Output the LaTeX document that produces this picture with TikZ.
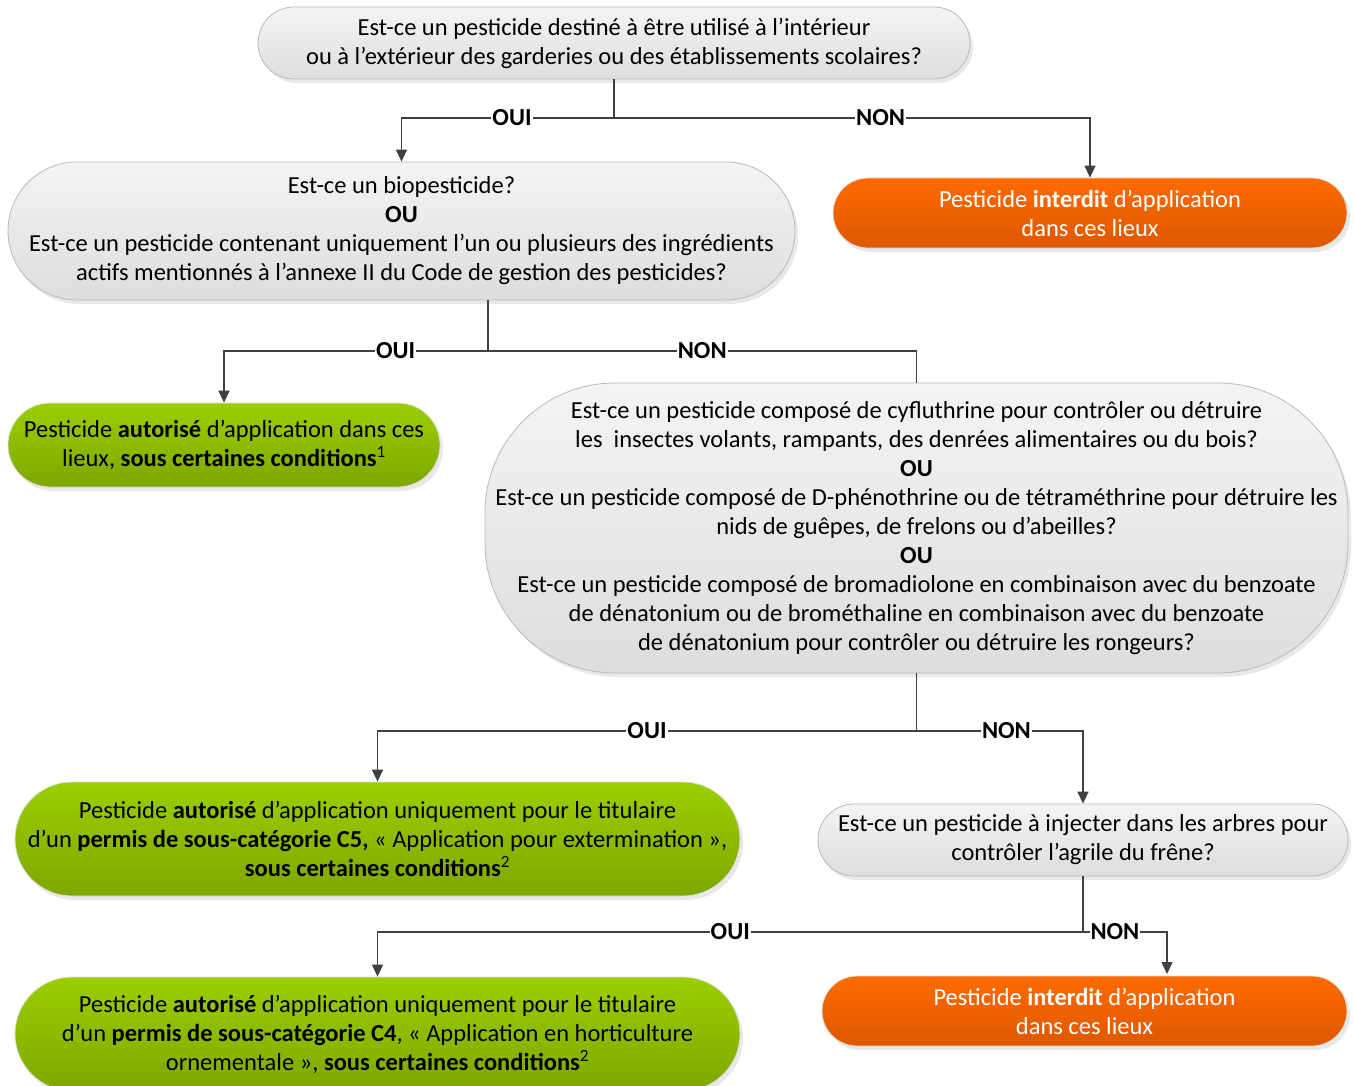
\documentclass[tikz,border=0pt]{standalone}
\usepackage{fontspec}
\setmainfont{Carlito}
\usepackage{xcolor}
\usetikzlibrary{arrows.meta,shadows}
\definecolor{linegray}{HTML}{404040}
\definecolor{qtop}{HTML}{F4F4F4}
\definecolor{qbot}{HTML}{DDDDDD}
\definecolor{gtop}{HTML}{9BCF00}
\definecolor{gbot}{HTML}{7FA600}
\definecolor{otop}{HTML}{FF6A00}
\definecolor{obot}{HTML}{DD5800}

\begin{document}
\begin{tikzpicture}[x=1pt,y=-1pt,
    every node/.style={font=\fontsize{24.5}{29}\selectfont, align=center, inner sep=0pt},
    box/.style={rounded corners=#1, drop shadow={shadow xshift=3pt, shadow yshift=-4pt, opacity=0.18}},
    question/.style={box=#1, draw=gray!55, line width=0.8pt, top color=qtop, bottom color=qbot},
    allowed/.style={box=#1, draw=gray!25, line width=0.8pt, top color=gtop, bottom color=gbot},
    banned/.style={box=#1, draw=gray!25, line width=0.8pt, top color=otop, bottom color=obot, text=white},
    link/.style={draw=linegray, line width=1.5pt},
    arrow/.style={link, -{Triangle[length=12pt,width=11pt]}},
    lbl/.style={fill=white, font=\fontsize{24.5}{26}\selectfont\bfseries, inner xsep=1pt, inner ysep=2pt}]
  \useasboundingbox (0,0) rectangle (1354,1086);

  % questions
  \node[question=36pt, minimum width=712pt, minimum height=72pt] (q1) at (614,43)
    {Est-ce un pesticide destiné à être utilisé à l’intérieur\\
     ou à l’extérieur des garderies ou des établissements scolaires?};
  \node[question=69pt, minimum width=787pt, minimum height=138pt] (q2) at (401.5,231)
    {Est-ce un biopesticide?\\ \textbf{OU}\\
     Est-ce un pesticide contenant uniquement l’un ou plusieurs des ingrédients\\
     actifs mentionnés à l’annexe II du Code de gestion des pesticides?};
  \node[question=130pt, minimum width=863pt, minimum height=290pt] (q3) at (916.5,528)
    {Est-ce un pesticide composé de cyfluthrine pour contrôler ou détruire\\
     les\ \ insectes volants, rampants, des denrées alimentaires ou du bois?\\
     \textbf{OU}\\
     Est-ce un pesticide composé de D-phénothrine ou de tétraméthrine pour détruire les\\
     nids de guêpes, de frelons ou d’abeilles?\\
     \textbf{OU}\\
     Est-ce un pesticide composé de bromadiolone en combinaison avec du benzoate\\
     de dénatonium ou de brométhaline en combinaison avec du benzoate\\
     de dénatonium pour contrôler ou détruire les rongeurs?};
  \node[question=36pt, minimum width=530pt, minimum height=72pt] (q4) at (1083,840)
    {Est-ce un pesticide à injecter dans les arbres pour\\ contrôler l’agrile du frêne?};

  % outcomes
  \node[banned=35pt, minimum width=514pt, minimum height=70pt] (r1) at (1090,213)
    {Pesticide \textbf{interdit} d’application\\ dans ces lieux};
  \node[banned=35pt, minimum width=525pt, minimum height=70pt] (r2) at (1084.5,1011)
    {Pesticide \textbf{interdit} d’application\\ dans ces lieux};
  \node[allowed=42pt, minimum width=432pt, minimum height=84pt] (g1) at (224,445)
    {Pesticide \textbf{autorisé} d’application dans ces\\
     lieux, \textbf{sous certaines conditions}\textsuperscript{1}};
  \node[allowed=57pt, minimum width=725pt, minimum height=114pt] (g2) at (377.5,839)
    {Pesticide \textbf{autorisé} d’application uniquement pour le titulaire\\
     d’un \textbf{permis de sous-catégorie C5,} « Application pour extermination »,\\
     \textbf{sous certaines conditions}\textsuperscript{2}};
  \node[allowed=57pt, minimum width=725pt, minimum height=114pt] (g3) at (377.5,1034)
    {Pesticide \textbf{autorisé} d’application uniquement pour le titulaire\\
     d’un \textbf{permis de sous-catégorie C4}, « Application en horticulture\\
     ornementale », \textbf{sous certaines conditions}\textsuperscript{2}};

  % branch points
  \coordinate (s1) at (614,118);
  \coordinate (s2) at (488,351);
  \coordinate (s3) at (916.5,731);
  \coordinate (s4) at (1083,932);
  \coordinate (t4) at (1167,974);

  \draw[link] (q1.south) -- (s1);
  \draw[link] (s2 |- q2.south) -- (s2);
  \draw[link] (q3.south) -- (s3);
  \draw[link] (q4.south) -- (s4);
  \draw[link] (s2) -| node[lbl, pos=0.25] {NON} (q3.north);

  \foreach \from/\to/\txt/\p in
    {s1/q2.north/OUI/0.24, s1/r1.north/NON/0.28,
     s2/g1.north/OUI/0.175,
     s3/g2.north/OUI/0.25, s3/q4.north/NON/0.27,
     s4/g3.north/OUI/0.25, s4/t4/NON/0.19}
    \draw[arrow] (\from) -| node[lbl, pos=\p] {\txt} (\to);
\end{tikzpicture}
\end{document}
